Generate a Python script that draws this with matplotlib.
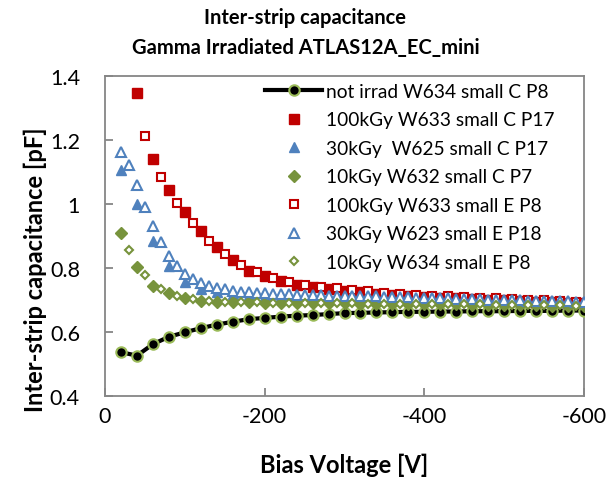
import numpy as np
import matplotlib
matplotlib.use("Agg")
import matplotlib.pyplot as plt
from matplotlib.ticker import FuncFormatter

plt.rcParams['font.family'] = ['Lato', 'DejaVu Sans']
plt.rcParams['axes.unicode_minus'] = False

# Bias voltage grids [V]
v_c = [-20 * i for i in range(1, 31)]            # -20 ... -600
v_c100 = [-20 * i for i in range(2, 31)]         # -40 ... -600
v_e100 = [-50 - 20 * i for i in range(28)]       # -50 ... -590
v_e30 = [-20 - 10 * i for i in range(59)]        # -20 ... -600, 10 V steps
v_e10 = [-30 - 20 * i for i in range(29)]        # -30 ... -590

# Inter-strip capacitance [pF]
not_irrad = [0.537, 0.526, 0.562, 0.585, 0.599, 0.612, 0.623, 0.632, 0.640, 0.644,
             0.648, 0.651, 0.653, 0.656, 0.659, 0.660, 0.661, 0.662, 0.663, 0.663,
             0.664, 0.664, 0.665, 0.665, 0.665, 0.666, 0.666, 0.666, 0.667, 0.667]

c100 = [1.346, 1.141, 1.043, 0.974, 0.915, 0.865, 0.825, 0.792, 0.776, 0.760,
        0.748, 0.740, 0.734, 0.729, 0.724, 0.720, 0.716, 0.713, 0.710, 0.707,
        0.705, 0.703, 0.701, 0.699, 0.697, 0.695, 0.694, 0.692, 0.690]

c30 = [1.107, 1.000, 0.885, 0.805, 0.755, 0.734, 0.724, 0.719, 0.716, 0.714,
       0.712, 0.711, 0.710, 0.709, 0.708, 0.707, 0.706, 0.705, 0.704, 0.703,
       0.702, 0.701, 0.700, 0.699, 0.698, 0.697, 0.696, 0.694, 0.692, 0.690]

c10 = [0.910, 0.802, 0.745, 0.722, 0.705, 0.698, 0.695, 0.694, 0.693, 0.692,
       0.692, 0.691, 0.691, 0.690, 0.690, 0.689, 0.689, 0.688, 0.688, 0.687,
       0.687, 0.686, 0.685, 0.685, 0.684, 0.683, 0.683, 0.682, 0.681, 0.680]

e100 = [1.212, 1.083, 1.004, 0.942, 0.885, 0.845, 0.808, 0.787, 0.770, 0.757,
        0.748, 0.741, 0.736, 0.731, 0.727, 0.723, 0.720, 0.717, 0.714, 0.711,
        0.709, 0.707, 0.705, 0.703, 0.701, 0.699, 0.697, 0.695]

e30 = [1.162, 1.122, 1.059, 0.990, 0.932, 0.880, 0.838, 0.805, 0.780, 0.766,
       0.752, 0.744, 0.738, 0.733, 0.729, 0.726, 0.724, 0.722, 0.721, 0.720,
       0.719, 0.718, 0.717, 0.716, 0.716, 0.715, 0.714, 0.714, 0.713, 0.712,
       0.712, 0.711, 0.711, 0.710, 0.709, 0.709, 0.708, 0.707, 0.707, 0.706,
       0.705, 0.705, 0.704, 0.703, 0.703, 0.702, 0.701, 0.701, 0.700, 0.700,
       0.699, 0.698, 0.698, 0.697, 0.697, 0.696, 0.696, 0.695, 0.695]

e10 = [0.856, 0.778, 0.734, 0.712, 0.702, 0.697, 0.695, 0.694, 0.693, 0.692,
       0.692, 0.691, 0.691, 0.690, 0.690, 0.689, 0.689, 0.688, 0.688, 0.687,
       0.687, 0.686, 0.686, 0.685, 0.685, 0.684, 0.683, 0.683, 0.682]

labels = ["not irrad W634 small C P8",
          "100kGy W633 small C P17",
          "30kGy  W625 small C P17",
          "10kGy W632 small C P7",
          "100kGy W633 small E P8",
          "30kGy W623 small E P18",
          "10kGy W634 small E P8"]

title_lines = ["Inter-strip capacitance", "Gamma Irradiated ATLAS12A_EC_mini"]

RED = "#C00000"
BLUE = "#4F81BD"
GREEN = "#77933C"
LGREEN = "#9BBB59"
AXIS_GREY = "#868686"

W, H = 611, 481
fig = plt.figure(figsize=(W / 100, H / 100), dpi=100)
ax = fig.add_axes([105 / W, 1 - 397 / H, (584 - 105) / W, (397 - 77) / H])

ax.plot(v_c, not_irrad, color="black", lw=3.0, marker="o", ms=7.5,
        mfc="black", mec=LGREEN, mew=1.5, label=labels[0], zorder=3)
ax.plot(v_c100, c100, ls="none", marker="s", ms=6.5, mfc=RED, mec=RED,
        label=labels[1], zorder=4)
ax.plot(v_c, c30, ls="none", marker="^", ms=6.5, mfc=BLUE, mec=BLUE,
        label=labels[2], zorder=4)
ax.plot(v_c, c10, ls="none", marker="D", ms=6.0, mfc=GREEN, mec=GREEN,
        label=labels[3], zorder=4)
ax.plot(v_e100, e100, ls="none", marker="s", ms=6.0, mfc="white", mec=RED,
        mew=1.5, label=labels[4], zorder=5)
ax.plot(v_e30, e30, ls="none", marker="^", ms=6.5, mfc="white", mec=BLUE,
        mew=1.5, label=labels[5], zorder=5)
ax.plot(v_e10, e10, ls="none", marker="D", ms=4.5, mfc="white", mec=GREEN,
        mew=1.5, label=labels[6], zorder=5)

ax.set_xlim(0, -600)
ax.set_ylim(0.4, 1.4)
ax.set_xticks([0, -200, -400, -600])
ax.set_yticks([0.4, 0.6, 0.8, 1.0, 1.2, 1.4])
ax.xaxis.set_major_formatter(FuncFormatter(lambda v, p: f"{v:g}"))
ax.yaxis.set_major_formatter(FuncFormatter(lambda v, p: f"{v:g}"))

for s in ax.spines.values():
    s.set_color(AXIS_GREY)
    s.set_linewidth(1.3)
ax.tick_params(direction="in", length=6, width=1.3, color=AXIS_GREY,
               labelsize=15.5, labelcolor="black")
ax.tick_params(axis="y", pad=18)
ax.tick_params(axis="x", pad=7)

ax.set_xlabel("Bias Voltage [V]", fontsize=17, fontweight="bold")
ax.set_ylabel("Inter-strip capacitance [pF]", fontsize=17, fontweight="bold")
ax.xaxis.set_label_coords(0.5, (397 - 465) / 320)
ax.xaxis.label.set_va("center")
ax.yaxis.set_label_coords((35 - 105) / 479, (397 - 270) / 320)
ax.yaxis.label.set_va("center")
ax.yaxis.label.set_ha("center")

fig.text(0.5, 1 - 18 / H, title_lines[0], fontsize=14.5, fontweight="bold",
         ha="center", va="center")
fig.text(0.5, 1 - 48 / H, title_lines[1], fontsize=14.5, fontweight="bold",
         ha="center", va="center")

ax.legend(loc="upper left", bbox_to_anchor=((265 - 105) / 479, (397 - 84) / 320),
          frameon=False, fontsize=13.75, handlelength=3.0, handletextpad=0.2,
          labelspacing=0.6, borderpad=0, borderaxespad=0)

fig.savefig("out.png", dpi=100)
